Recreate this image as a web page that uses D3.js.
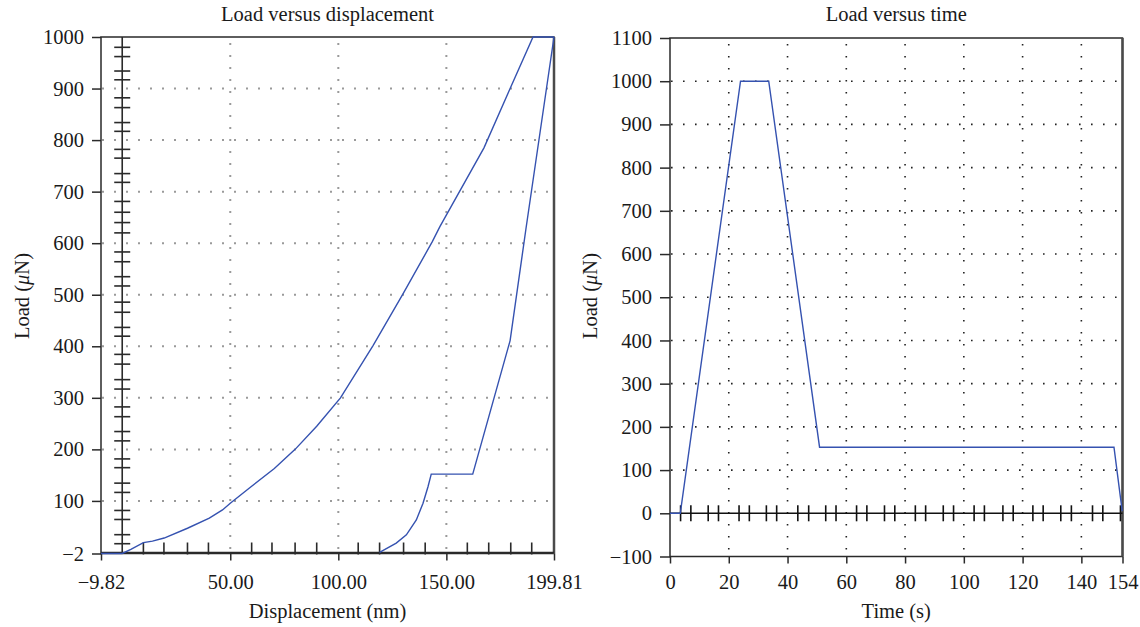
<!DOCTYPE html>
<html><head><meta charset="utf-8">
<script src="https://cdn.jsdelivr.net/npm/d3@7"></script>
<style>
body{margin:0;background:#fff}
svg{display:block}
text{font-family:"Liberation Serif","DejaVu Serif",serif;fill:#1a1a1a}
</style>
</head><body>
<svg id="c" width="1140" height="627"></svg>
<script>
// ---------- data ----------
// Load versus displacement: loading branch
const loadingDisp = [-9.82, 0, 4, 9.8, 14, 19.4, 30.2, 40.3, 46.4, 50, 59.6, 70.4, 80, 90, 101, 116, 130, 143.5, 147, 167.4, 179.3, 190.1, 199.81];
const loadingLoad = [-2, -2, 6, 19, 22, 28, 47, 66.5, 82.5, 95.5, 127.6, 163, 200, 245, 300, 401, 502, 603, 632, 785, 898, 1000, 1000];
// Load versus displacement: unloading branch
const unloadingDisp = [199.81, 186.8, 179.5, 162.2, 143.0, 141.5, 139.2, 136.1, 131.5, 126.8, 119.1];
const unloadingLoad = [1000, 627, 411, 152, 152, 127.6, 95.5, 63.2, 34.2, 18.1, 0];
// Load versus time
const timeValues = [0, 3.5, 24, 33.6, 50.9, 151.1, 153.9];
const timeLoad = [0, 0, 1000, 1000, 153, 153, 5];

// tick labels
const dispTicks = [-9.82, 50, 100, 150, 199.81];
const dispLoadTicks = [-2, 100, 200, 300, 400, 500, 600, 700, 800, 900, 1000];
const dispGridX = [50, 100, 150];
const dispGridY = [100, 200, 300, 400, 500, 600, 700, 800, 900];
const timeTicks = [0, 20, 40, 60, 80, 100, 120, 140, 154];
const timeLoadTicks = [-100, 0, 100, 200, 300, 400, 500, 600, 700, 800, 900, 1000, 1100];
const timeGridX = [20, 40, 60, 80, 100, 120, 140];
const timeGridY = [100, 200, 300, 400, 500, 600, 700, 800, 900, 1000];
// minor ticks on the inner (zero) axes
const dispMinorTicks = [9.8, 19.3, 30.2, 39.9, 59.9, 69.3, 80, 90, 109.2, 119.1, 130.2, 140.2, 159.7, 169.6, 179.8, 189.5];
const loadMinorTicks = [17, 34.5, 64, 81.5, 116.5, 134.5, 164.5, 181.5, 216.5, 234.6, 263.4, 282.4, 317, 335.3, 365.4, 384.3, 419.6, 436.6, 466, 485.6, 517, 535, 564, 583, 620, 640, 660, 681, 718, 735, 765, 782, 817, 834, 863, 882, 917, 934, 962, 980];
const timeMinorTicks = [3.6, 7.1, 13, 16.5, 23.5, 27, 32.8, 36.3, 43.5, 47.2, 53, 56.5, 63.5, 67, 73, 76.5, 83.5, 87, 93, 96.5, 103.5, 107, 113.3, 116.8, 123.5, 127, 133, 136.6, 143.8, 147.3, 153.3];

// ---------- drawing ----------
const svg = d3.select("#c");
const FS = 20.5;
const lineColor = "#3552b0";
const axisColor = "#2a2a2a";

function zip(a, b) { return a.map((v, i) => [v, b[i]]); }

function panel(opt) {
  const {x, y, xTicks, yTicks, xFmt, yFmt, gridX, gridY, gridColor, title, xTitle, yTitleX} = opt;
  const g = svg.append("g");
  const [x0, x1] = x.range();
  const [y0, y1] = y.range(); // y0 bottom, y1 top

  // grid
  g.append("g").selectAll("line").data(gridY).join("line")
    .attr("x1", x0 + 1).attr("x2", x1 - 1)
    .attr("y1", d => y(d)).attr("y2", d => y(d))
    .attr("stroke", gridColor).attr("stroke-width", opt.gridW)
    .attr("stroke-dasharray", opt.gridDash);
  g.append("g").selectAll("line").data(gridX).join("line")
    .attr("x1", d => x(d)).attr("x2", d => x(d))
    .attr("y1", y1 + 6).attr("y2", y0)
    .attr("stroke", gridColor).attr("stroke-width", opt.gridW)
    .attr("stroke-dasharray", opt.gridDash);

  // axes
  const ay = g.append("g").attr("transform", `translate(${x0},0)`)
    .call(d3.axisLeft(y).tickValues(yTicks).tickFormat(yFmt).tickSize(opt.yTickSize).tickPadding(opt.yPad));
  const xPad = 589 - 14.6 - (y0 + 7);
  const ax = g.append("g").attr("transform", `translate(0,${y0})`)
    .call(d3.axisBottom(x).tickValues(xTicks).tickFormat(xFmt).tickSize(7).tickPadding(xPad));
  [ax, ay].forEach(a => {
    a.select(".domain").remove();
    a.selectAll("line").attr("stroke", axisColor).attr("stroke-width", 1.5);
    a.selectAll("text").attr("font-size", FS).attr("font-family", "Liberation Serif").attr("fill", "#1a1a1a");
  });

  // frame
  g.append("rect").attr("x", x0).attr("y", y1).attr("width", x1 - x0).attr("height", y0 - y1)
    .attr("fill", "none").attr("stroke", axisColor).attr("stroke-width", 1.5);
  g.append("line").attr("x1", x1).attr("x2", x1).attr("y1", y1).attr("y2", y0)
    .attr("stroke", "#4a4a4a").attr("stroke-width", 2.5);

  // titles
  g.append("text").attr("x", (x0 + x1) / 2).attr("y", 21).attr("text-anchor", "middle")
    .attr("font-size", FS).text(title);
  g.append("text").attr("x", (x0 + x1) / 2).attr("y", 618).attr("text-anchor", "middle")
    .attr("font-size", FS).text(xTitle);
  const yt = g.append("text").attr("transform", `translate(${yTitleX},296) rotate(-90)`)
    .attr("text-anchor", "middle").attr("font-size", FS);
  yt.append("tspan").text("Load (");
  yt.append("tspan").attr("font-style", "italic").text("\u03bc");
  yt.append("tspan").text("N)");
  return g;
}

// ----- left panel -----
const xL = d3.scaleLinear().domain([-9.82, 199.81]).range([101, 554]);
const yL = d3.scaleLinear().domain([-2, 1000]).range([553.5, 37]);
const gL = panel({
  x: xL, y: yL, xTicks: dispTicks, yTicks: dispLoadTicks,
  xFmt: d3.format(".2f"), yFmt: d3.format("d"),
  gridX: dispGridX, gridY: dispGridY, gridColor: "#9a9a9a", gridW: 2, gridDash: "2,10",
  title: "Load versus displacement", xTitle: "Displacement (nm)", yTitleX: 29,
  yTickSize: 9, yPad: 8
});
// inner axes
gL.append("line").attr("x1", xL(0)).attr("x2", xL(0)).attr("y1", yL(-2)).attr("y2", yL(1000))
  .attr("stroke", axisColor).attr("stroke-width", 1.6);
gL.append("line").attr("x1", xL(-9.82)).attr("x2", xL(199.81)).attr("y1", yL(0)).attr("y2", yL(0))
  .attr("stroke", axisColor).attr("stroke-width", 1.2);
gL.append("g").selectAll("line").data(loadMinorTicks).join("line")
  .attr("x1", xL(0) - 8).attr("x2", xL(0) + 8)
  .attr("y1", d => yL(d)).attr("y2", d => yL(d))
  .attr("stroke", axisColor).attr("stroke-width", 1.6);
gL.append("g").selectAll("line").data(dispMinorTicks).join("line")
  .attr("x1", d => xL(d)).attr("x2", d => xL(d))
  .attr("y1", yL(-2) - 11).attr("y2", yL(-2) + 1)
  .attr("stroke", axisColor).attr("stroke-width", 1.6);
const lineL = d3.line().x(d => xL(d[0])).y(d => yL(d[1]));
gL.append("path").datum(zip(loadingDisp, loadingLoad)).attr("d", lineL)
  .attr("fill", "none").attr("stroke", lineColor).attr("stroke-width", 1.4);
gL.append("path").datum(zip(unloadingDisp, unloadingLoad)).attr("d", lineL)
  .attr("fill", "none").attr("stroke", lineColor).attr("stroke-width", 1.4);

// ----- right panel -----
const xR = d3.scaleLinear().domain([0, 154]).range([670, 1122.5]);
const yR = d3.scaleLinear().domain([-100, 1100]).range([556.5, 38]);
const gR = panel({
  x: xR, y: yR, xTicks: timeTicks, yTicks: timeLoadTicks,
  xFmt: d3.format("d"), yFmt: d3.format("d"),
  gridX: timeGridX, gridY: timeGridY, gridColor: "#222", gridW: 1.6, gridDash: "1.6,10.4",
  title: "Load versus time", xTitle: "Time (s)", yTitleX: 597,
  yTickSize: 10, yPad: 8
});
gR.append("line").attr("x1", xR(0)).attr("x2", xR(154)).attr("y1", yR(0)).attr("y2", yR(0))
  .attr("stroke", "#111").attr("stroke-width", 1.6);
gR.append("g").selectAll("line").data(timeMinorTicks).join("line")
  .attr("x1", d => xR(d)).attr("x2", d => xR(d))
  .attr("y1", yR(0) - 8).attr("y2", yR(0) + 8)
  .attr("stroke", "#111").attr("stroke-width", 1.6);
const lineR = d3.line().x(d => xR(d[0])).y(d => yR(d[1]));
gR.append("path").datum(zip(timeValues, timeLoad)).attr("d", lineR)
  .attr("fill", "none").attr("stroke", lineColor).attr("stroke-width", 1.4);
</script>
</body></html>
